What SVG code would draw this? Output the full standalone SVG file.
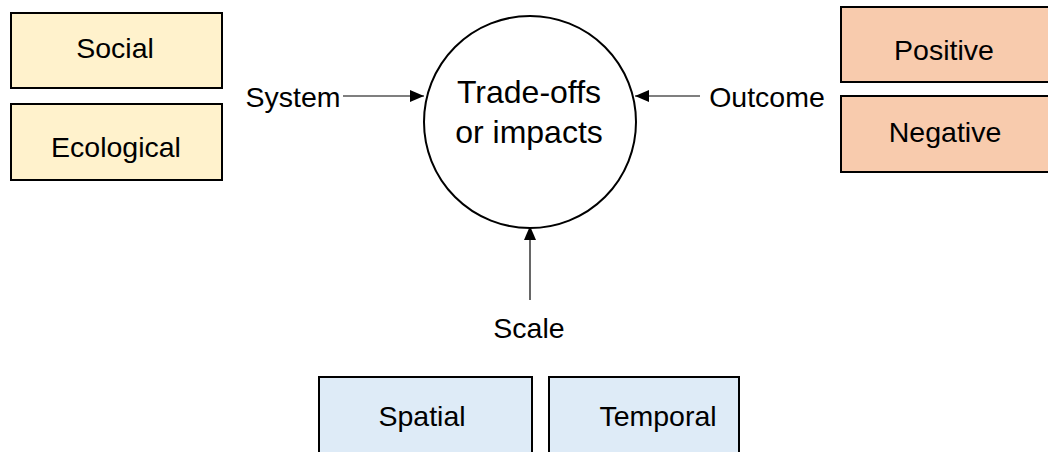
<svg xmlns="http://www.w3.org/2000/svg" width="1048" height="452" viewBox="0 0 1048 452">
  <style>
    .box { stroke: #000; stroke-width: 2; }
    .sys { fill: #FFF2CC; }
    .out { fill: #F8CBAD; }
    .scl { fill: #DEEBF7; }
    text { font-family: "Liberation Sans", Arial, sans-serif; font-size: 28.5px; fill: #000; text-anchor: middle; }
    .big { font-size: 32px; }
    .edge { stroke: #000; stroke-width: 1.2; fill: none; marker-end: url(#arrow); }
  </style>
  <defs>
    <marker id="arrow" viewBox="0 0 14 12" refX="14" refY="6" markerWidth="14" markerHeight="12" markerUnits="userSpaceOnUse" orient="auto">
      <path d="M0,0 L14,6 L0,12 z" fill="#000"/>
    </marker>
  </defs>
  <rect width="1048" height="452" fill="#fff"/>

  <g id="connectors">
    <path class="edge" d="M343,96 H424"/>
    <path class="edge" d="M700,96 H635"/>
    <path class="edge" d="M530,300 V226"/>
  </g>

  <g id="center">
    <circle cx="530" cy="122" r="106" fill="#fff" stroke="#000" stroke-width="2"/>
    <text class="big" x="529" y="103">Trade-offs</text>
    <text class="big" x="529" y="143">or impacts</text>
  </g>

  <g id="label-system"><text x="293" y="107">System</text></g>
  <g id="label-outcome"><text x="767" y="107">Outcome</text></g>
  <g id="label-scale"><text x="529" y="338">Scale</text></g>

  <g id="social"><rect class="box sys" x="11" y="13" width="211" height="75"/><text x="115" y="58">Social</text></g>
  <g id="ecological"><rect class="box sys" x="11" y="104" width="211" height="76"/><text x="116" y="157">Ecological</text></g>

  <g id="positive"><rect class="box out" x="841" y="7" width="212" height="75"/><text x="944" y="60">Positive</text></g>
  <g id="negative"><rect class="box out" x="841" y="96" width="212" height="76"/><text x="945" y="142">Negative</text></g>

  <g id="spatial"><rect class="box scl" x="319" y="377" width="213" height="80"/><text x="422" y="426">Spatial</text></g>
  <g id="temporal"><rect class="box scl" x="549" y="377" width="190" height="80"/><text x="658" y="426">Temporal</text></g>
</svg>
